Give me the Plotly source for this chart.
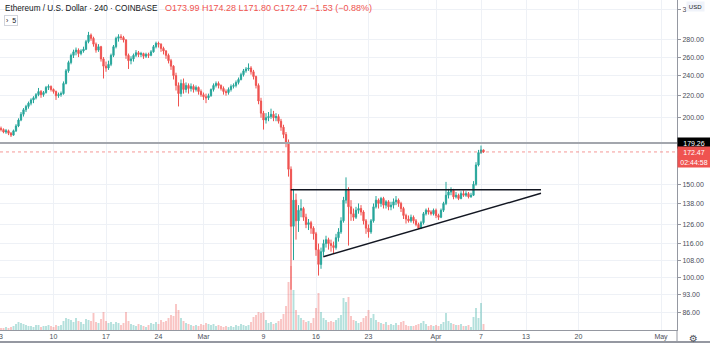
import math
import pandas as pd
import plotly.graph_objects as go

# ---------------- data (ETH/USD, 8h bars) ----------------
start_time = "2020-02-03 00:00"
bar_interval = "8h"

opens = [191,190,188,189,187,185.5,189,193,198,203,207,210,213,216,218,221,224,221,223,228,
         229,226,224,220,221,222,232,245,254,262,266,268,264,267,269,278,286,282,275,268,
         272,258,250,248,252,262,272,282,284,283,280,262,256,258,262,265,263,264,261,263,
         262,266,272,276,275,270,267,262,256,250,240,230,222,232,226,230,227,229,226,228,
         224,221,219,218,220,226,230,232,230,227,224,223,226,229,230,233,236,241,245,247,
         248,244,239,230,215,204,198,200,201,203,200,201,197,192,186,180,160,125,140,128,
         134,135,130,126,127,124,121,113,106,112,116,118,116,115,114,119,122,128,140,146,
         136,132,130,134,135,133,128,124,122,128,136,140,138,141,137,139,136,137,139,140,
         138,135,131,129,128,130,128,126,124,127,132,134,133,132,134,131,130,134,138,143,
         145,146,142,143,141,144,143,144,142,143,150,163,172,173.99]
highs = [192.5,191,190.5,190,188,190,194.5,199.5,205,208.5,211.5,214.5,217.5,219.5,222.5,227.5,225.5,224.5,229.5,231,
         230,227,225,223,224,234,247,256,264,268.5,271,270,269,272,280,290,288,284,277,275,
         273,260,255,256,264,274,284,287,287,285,281,264,261,264,268,267,266,265,265,265,
         268,274,278,278,276,272,268,264,258,251,243,233,236,237,233,232,232,231,230,229,
         226,223,222,222,227,232,234,234,231,229,226,228,231,232,235,238,243,247,249,253,
         250,246,240,232,218,206,204,205,208,206,204,203,199,194,188,182,162,147,144,137,
         140.5,136,132,129,128,125,122,116,114,118,120,119,118,117,121,124,130,142,154.5,148,
         140,135,136,138,137,134,129,126,129,138,142.5,141,142,142,140,140,139,141,142.5,141,
         139,136,132,131,131.5,131,129,127,128,133,135,135.5,134,135,135,132,135,139,151.5,147,
         148,147,145,144,145.5,146,145.5,145,144.5,152,165,174,177.3,174.28]
lows = [188.5,187,186.5,185.5,184,185,188,192,197,201,205,208,211,213,216.5,219.5,218,219,222,225.5,
        224,222,216,218,219,221,231,243,252,259,262,260,262,265,268,276,279,272,265,266,
        255,237,244,246,250,260,270,278,280,277,258,247,252,255,260,260,260,258,259,259,
        261,265,270,271,266,263,258,253,246,236,225,210,219,222,223,222,224,223,224,221,
        219,216,213,216,219,224,228,227,225,221,220,221,224,227,228,231,235,239,243,245,
        241,236,227,212,200,190,195,197,199,197,197,195,189,183,176,155,95,108,118,122,
        130,128,124,123,121,118,110,101,104,110,114,113,112,111,113,117,121,127,138,115,
        128,128,129,132,131,126,121,119,121,127,135,135,136,135,135,134,134,135,137,136,
        133,129,126.5,127,127,126.5,125,123.5,123.5,126,131,131.5,131,131,129.5,128.5,129.5,133,137,141,
        143,140.5,141,140,140.5,142,142,141,141.5,142.5,149,162,171,171.80]
closes = [190,188,189,187,185.5,189,193,198,203,207,210,213,216,218,221,224,221,223,228,229,
          226,224,220,221,222,232,245,254,262,266,268,264,267,269,278,286,282,275,268,272,
          258,250,248,252,262,272,282,284,283,280,262,256,258,262,265,263,264,261,263,262,
          266,272,276,275,270,267,262,256,250,240,230,222,232,226,230,227,229,226,228,224,
          221,219,218,220,226,230,232,230,227,224,223,226,229,230,233,236,241,245,247,248,
          244,239,230,215,204,198,200,201,203,200,201,197,192,186,180,160,125,140,128,134,
          135,130,126,127,124,121,113,106,112,116,118,116,115,114,119,122,128,140,146,136,
          132,130,134,135,133,128,124,122,128,136,140,138,141,137,139,136,137,139,140,138,
          135,131,129,128,130,128,126,124,127,132,134,133,132,134,131,130,134,138,143,145,
          146,142,143,141,144,143,144,142,143,150,163,172,174,172.47]
volumes = [10,10,15,10,15,20,30,40,35,30,25,20,20,15,25,25,15,20,20,25,
           20,15,25,20,25,45,60,55,50,40,60,45,40,30,55,50,45,85,40,35,
           55,90,45,35,40,30,40,35,25,35,90,45,30,25,20,30,25,20,15,25,
           35,30,40,30,50,40,45,60,75,70,130,100,60,45,35,30,25,20,25,20,
           30,25,35,30,25,30,20,25,20,15,20,15,20,15,25,20,30,25,20,25,
           40,65,75,90,85,90,50,35,40,30,35,45,55,80,120,240,320,200,100,75,
           60,50,40,45,35,60,110,185,90,60,50,40,45,40,50,60,75,160,140,165,
           70,50,45,35,40,60,70,100,60,80,50,40,35,30,40,25,30,25,35,25,
           40,45,25,20,20,20,25,30,35,45,30,20,25,20,25,20,30,40,85,45,
           35,30,25,25,30,20,20,25,15,65,110,60,135,30]

x_tick_dates = ["2020-02-03","2020-02-10","2020-02-17","2020-02-24","2020-03-01","2020-03-09",
                "2020-03-16","2020-03-23","2020-04-01","2020-04-07","2020-04-13","2020-04-20","2020-05-01"]
x_tick_text = ["3","10","17","24","Mar","9","16","23","Apr","7","13","20","May"]
y_tick_vals = [86,93,100,108,116,126,138,150,200,220,240,260,280,320]
# the top label (320.00) is mostly hidden behind the "USD" badge; only its first digit shows
y_tick_text = ["86.00","93.00","100.00","108.00","116.00","126.00","138.00","150.00",
               "200.00","220.00","240.00","260.00","280.00","3"]

# drawn trend lines (triangle)
flat_line_dates = ["2020-03-12 15:00", "2020-04-15 00:00"]
flat_line_prices = [146.4, 146.4]
rising_line_dates = ["2020-03-16 23:20", "2020-04-15 00:00"]
rising_line_prices = [109.6, 144.2]

last_high_line = 179.26
last_price = 172.47
countdown = "02:44:58"
header_title = "Ethereum / U.S. Dollar · 240 · COINBASE"
header_ohlc = "O173.99 H174.28 L171.80 C172.47 −1.53 (−0.88%)"

# ---------------- figure ----------------
GREEN = "#26a69a"
RED = "#ef5350"
GRID = "#eef1f6"
AXIS = "#9598a1"
TXT = "#4a4e59"
FONT = "Liberation Sans, Arial, sans-serif"

times = pd.date_range(start_time, periods=len(closes), freq=bar_interval)
vol_colors = ["rgba(38,166,154,0.35)" if c >= o else "rgba(239,83,80,0.35)"
              for o, c in zip(opens, closes)]

fig = go.Figure()
fig.add_trace(go.Bar(x=times, y=volumes, marker=dict(color=vol_colors, line=dict(width=0)),
                     yaxis="y", hoverinfo="skip"))
fig.add_trace(go.Candlestick(
    x=times, open=opens, high=highs, low=lows, close=closes, yaxis="y2",
    increasing=dict(line=dict(color=GREEN, width=1), fillcolor=GREEN),
    decreasing=dict(line=dict(color=RED, width=1), fillcolor=RED),
    whiskerwidth=0))

shapes = [
    dict(type="line", xref="paper", x0=0, x1=1, yref="y2", y0=last_high_line, y1=last_high_line,
         line=dict(color="#a3a6ad", width=2)),
    dict(type="line", xref="paper", x0=0, x1=1, yref="y2", y0=last_price, y1=last_price,
         line=dict(color="rgba(239,83,80,0.6)", width=1, dash="dot")),
    dict(type="line", xref="x", yref="y2", x0=flat_line_dates[0], x1=flat_line_dates[1],
         y0=flat_line_prices[0], y1=flat_line_prices[1], line=dict(color="#131722", width=1.5)),
    dict(type="line", xref="x", yref="y2", x0=rising_line_dates[0], x1=rising_line_dates[1],
         y0=rising_line_prices[0], y1=rising_line_prices[1], line=dict(color="#131722", width=1.5)),
    dict(type="line", xref="paper", yref="paper", x0=1, x1=1, y0=-0.04, y1=0,
         line=dict(color=AXIS, width=1)),
    dict(type="line", xref="paper", yref="paper", x0=0, x1=710/677, y0=-0.036, y1=-0.036,
         line=dict(color=AXIS, width=2)),
]

annotations = [
    dict(xref="paper", yref="paper", x=0, y=1, xanchor="left", yanchor="top", xshift=3, yshift=-1,
         showarrow=False, align="left",
         text=f"<span style='color:#131722;font-size:8.2px'>{header_title}</span>&nbsp;&nbsp;&nbsp;"
              f"<span style='color:{RED}'>{header_ohlc}</span>",
         font=dict(family=FONT, size=9)),
    dict(xref="paper", yref="paper", x=0, y=1, xanchor="left", yanchor="top", xshift=4, yshift=-15,
         showarrow=False, text="›  5", font=dict(family=FONT, size=7, color="#131722"),
         bordercolor="#d1d4dc", borderwidth=1, borderpad=1, bgcolor="white"),
    dict(xref="paper", yref="y2", x=1, y=math.log10(last_high_line), xanchor="left", yanchor="middle",
         showarrow=False, text=f"{last_high_line:.2f}", bgcolor="#000000", width=30, height=8,
         font=dict(family=FONT, size=7, color="white")),
    dict(xref="paper", yref="y2", x=1, y=math.log10(last_price), xanchor="left", yanchor="middle",
         showarrow=False, text=f"{last_price:.2f}", bgcolor=RED, width=30, height=8,
         font=dict(family=FONT, size=7, color="white")),
    dict(xref="paper", yref="y2", x=1, y=math.log10(last_price), xanchor="left", yanchor="middle",
         yshift=-10.5, showarrow=False, text=countdown, bgcolor=RED, width=30, height=8,
         font=dict(family=FONT, size=7, color="white")),
    dict(xref="paper", yref="paper", x=1, y=1, xanchor="left", yanchor="top", xshift=9, yshift=-1,
         showarrow=False, text="USD", bgcolor="#f0f3fa", width=15, height=7,
         font=dict(family=FONT, size=6, color="#131722")),
    dict(xref="paper", yref="paper", x=1, y=0, xanchor="left", yanchor="top", xshift=10, yshift=-1,
         showarrow=False, text="⚙", font=dict(family="DejaVu Sans", size=10, color="#50535e")),
]

fig.update_layout(
    width=710, height=343, margin=dict(l=0, r=33, t=0, b=13),
    paper_bgcolor="white", plot_bgcolor="white", showlegend=False, bargap=0.25,
    font=dict(family=FONT, size=7, color=TXT),
    xaxis=dict(type="date", range=["2020-02-02 20:48", "2020-05-03 03:12"],
               tickvals=x_tick_dates, ticktext=x_tick_text, showgrid=True, gridcolor=GRID,
               showline=True, linecolor=AXIS, linewidth=1, ticks="", zeroline=False,
               ticklabeloverflow="allow",
               tickfont=dict(family=FONT, size=7, color=TXT), rangeslider=dict(visible=False)),
    yaxis=dict(range=[0, 1650], visible=False, showgrid=False, fixedrange=True),
    yaxis2=dict(overlaying="y", side="right", type="log",
                range=[math.log10(79.8), math.log10(332.9)],
                tickvals=y_tick_vals, ticktext=y_tick_text, showgrid=True, gridcolor=GRID,
                ticks="outside", ticklen=3, tickcolor=AXIS, showline=True, linecolor=AXIS,
                linewidth=1, zeroline=False, ticklabeloverflow="allow",
                tickfont=dict(family=FONT, size=7, color=TXT)),
    shapes=shapes, annotations=annotations,
)

fig.write_html("out.html")
